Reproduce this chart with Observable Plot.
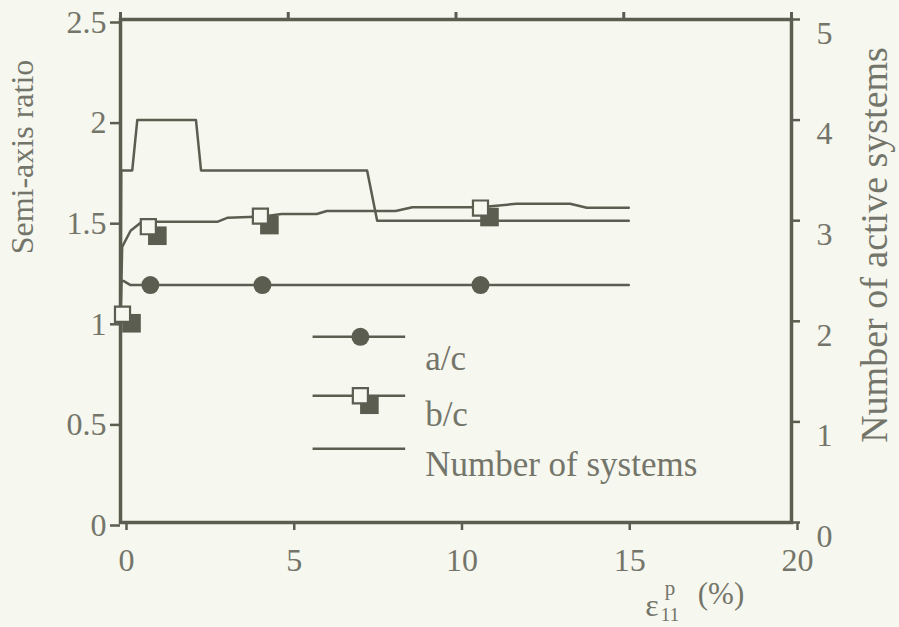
<!DOCTYPE html>
<html>
<head>
<meta charset="utf-8">
<script src="https://cdn.jsdelivr.net/npm/d3@7"></script>
<script src="https://cdn.jsdelivr.net/npm/@observablehq/plot@0.6"></script>
<style>
  html, body { margin: 0; padding: 0; background: #f6f7ee; }
  #chart { width: 899px; height: 627px; overflow: hidden; }
</style>
</head>
<body>
<div id="chart"></div>
<script>
// ---- data ----
const xTicks = [0, 5, 10, 15, 20];
const yTicksLeft = [0, 0.5, 1, 1.5, 2, 2.5];
const yTicksRightLabels = [0, 1, 2, 3, 4, 5];

// a/c curve (semi-axis ratio)
const acX = [0, 0.02, 0.1, 0.3, 0.89, 4.23, 10.73, 15.15];
const acY = [1.0, 1.2, 1.2, 1.18, 1.18, 1.18, 1.18, 1.18];
// a/c markers
const acMarkX = [0.89, 4.23, 10.73];
const acMarkY = [1.18, 1.18, 1.18];

// b/c curve
const bcX = [0, 0.05, 0.3, 0.6, 1.1, 2.9, 3.2, 4.2, 4.8, 5.85, 6.15, 8.2, 8.7, 10.7, 11.8, 13.4, 13.9, 15.15];
const bcY = [1.0, 1.37, 1.45, 1.49, 1.495, 1.495, 1.515, 1.52, 1.533, 1.533, 1.548, 1.548, 1.567, 1.567, 1.584, 1.584, 1.564, 1.564];
// b/c markers
const bcMarkX = [0.06, 0.83, 4.17, 10.73];
const bcMarkY = [1.035, 1.47, 1.523, 1.563];

// number of active systems (right axis, 0-5)
const nsX = [0, 0.02, 0.35, 0.5, 2.25, 2.4, 7.35, 7.65, 15.15];
const nsY = [2, 3.5, 3.5, 4, 4, 3.5, 3.5, 3, 3];

const legendLabels = ["a/c", "b/c", "Number of systems"];

// ---- style ----
const bg = "#f6f7ee";
const ink = "#5c5d51";
const textCol = "#74756a";
const font = "'Liberation Serif', 'Times New Roman', serif";

// right axis shares the y scale: count n sits at n/2 on the 0-2.5 ratio scale
const ratioPerCount = 0.5;

const ac = acX.map((x, i) => ({x, y: acY[i]}));
const acM = acMarkX.map((x, i) => ({x, y: acMarkY[i]}));
const bc = bcX.map((x, i) => ({x, y: bcY[i]}));
const bcM = bcMarkX.map((x, i) => ({x, y: bcMarkY[i]}));
const ns = nsX.map((x, i) => ({x, y: nsY[i] * ratioPerCount}));

// legend placement (data units, inside the plot)
const legX1 = 5.74, legX2 = 8.5, legSym = 7.15, legText = 9.08;
const legRowY = [0.923, 0.63, 0.367];
const legTextY = [0.813, 0.536, 0.288];
const legend = legendLabels.map((label, i) => ({label, y: legRowY[i], ty: legTextY[i]}));

const rightTicks = yTicksRightLabels.map(v => v * ratioPerCount);

const svg = Plot.plot({
  width: 899,
  height: 627,
  marginLeft: 120,
  marginRight: 108,
  marginTop: 19,
  marginBottom: 105,
  x: {domain: [0, 20], label: null},
  y: {domain: [0, 2.5], label: null},
  style: {background: bg, color: textCol, fontFamily: font, fontSize: "32px", overflow: "visible"},
  marks: [
    Plot.axisX({anchor: "bottom", ticks: xTicks, tickSize: 8, tickPadding: 18, tickFormat: d => d, label: null, stroke: ink, strokeWidth: 2.5, dx: 6, fill: textCol, fontSize: 32}),
    Plot.axisX({anchor: "top", ticks: xTicks, tickSize: 8, tickFormat: () => "", label: null, stroke: ink, strokeWidth: 3}),
    Plot.axisY({anchor: "left", ticks: yTicksLeft, tickSize: 10, tickPadding: 4, tickFormat: d => d, label: null, stroke: ink, strokeWidth: 2.5, dy: 3, fill: textCol, fontSize: 32}),
    // right axis: ticks only
    Plot.axisY({anchor: "right", ticks: rightTicks, tickSize: 8, tickFormat: () => "", label: null, stroke: ink, strokeWidth: 2.5}),
    // right axis: labels only (shifted)
    Plot.axisY({anchor: "right", ticks: rightTicks, tickSize: 8, tickPadding: 27, tickFormat: d => d / ratioPerCount, label: null, stroke: "none", dx: -10, dy: 14, fill: textCol, fontSize: 32}),
    Plot.frame({stroke: ink, strokeWidth: 3.5}),
    // number of systems
    Plot.line(ns, {x: "x", y: "y", stroke: ink, strokeWidth: 2.5}),
    // a/c
    Plot.line(ac, {x: "x", y: "y", stroke: ink, strokeWidth: 2.5}),
    Plot.dot(acM, {x: "x", y: "y", r: 9, fill: ink, stroke: "none"}),
    // b/c
    Plot.line(bc, {x: "x", y: "y", stroke: ink, strokeWidth: 2.5}),
    Plot.dot(bcM, {x: "x", y: "y", symbol: "square", r: 10.5, fill: ink, stroke: "none", dx: 9, dy: 9}),
    Plot.dot(bcM, {x: "x", y: "y", symbol: "square", r: 8.5, fill: bg, stroke: ink, strokeWidth: 2.2}),
    // legend
    Plot.ruleY(legend, {y: "y", x1: legX1, x2: legX2, stroke: ink, strokeWidth: 2.5}),
    Plot.dot(legend.slice(0, 1), {x: legSym, y: "y", r: 9, fill: ink, stroke: "none"}),
    Plot.dot(legend.slice(1, 2), {x: legSym, y: "y", symbol: "square", r: 10.5, fill: ink, stroke: "none", dx: 9, dy: 9}),
    Plot.dot(legend.slice(1, 2), {x: legSym, y: "y", symbol: "square", r: 8.5, fill: bg, stroke: ink, strokeWidth: 2.2}),
    Plot.text(legend, {x: legText, y: "ty", text: "label", textAnchor: "start", fill: textCol, fontSize: 35})
  ]
});

const s = d3.select(svg);
// left axis title
s.append("text")
  .attr("transform", "translate(33,157) rotate(-90)")
  .attr("text-anchor", "middle")
  .attr("fill", textCol)
  .style("font-size", "32px")
  .text("Semi-axis ratio");
// right axis title
s.append("text")
  .attr("transform", "translate(887,245) rotate(-90)")
  .attr("text-anchor", "middle")
  .attr("fill", textCol)
  .style("font-size", "38px")
  .text("Number of active systems");
// x axis title: ε11^p (%)
s.append("text").attr("x", 652).attr("y", 616).attr("fill", textCol).style("font-size", "32px").text("ε");
s.append("text").attr("x", 670).attr("y", 595).attr("fill", textCol).style("font-size", "21px").text("p");
s.append("text").attr("x", 670).attr("y", 621).attr("fill", textCol).style("font-size", "19px").text("11");
s.append("text").attr("x", 721).attr("y", 604).attr("fill", textCol).style("font-size", "31px").text("(%)");

document.getElementById("chart").appendChild(svg);
</script>
</body>
</html>
